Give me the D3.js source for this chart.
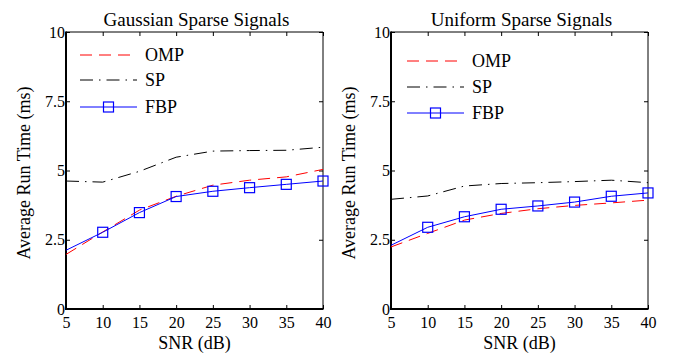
<!DOCTYPE html>
<html><head><meta charset="utf-8">
<script src="https://cdn.jsdelivr.net/npm/d3@7"></script>
<style>
html,body{margin:0;padding:0;background:#fff;}
svg{display:block;}
svg text{font-family:"Liberation Serif","Times New Roman",serif;}
</style></head>
<body>
<svg id="chart" width="686" height="353"></svg>
<script>
const snr = [5, 10, 15, 20, 25, 30, 35, 40];
const xTicks = [5, 10, 15, 20, 25, 30, 35, 40];
const yTicks = [0, 2.5, 5, 7.5, 10];
const yTickLabels = ["0", "2.5", "5", "7.5", "10"];
const seriesNames = ["OMP", "SP", "FBP"];
const titles = ["Gaussian Sparse Signals", "Uniform Sparse Signals"];

const gaussOMP = [1.97, 2.78, 3.57, 4.07, 4.47, 4.65, 4.77, 5.04];
const gaussSP  = [4.62, 4.58, 4.97, 5.48, 5.70, 5.72, 5.73, 5.84];
const gaussFBP = [2.12, 2.77, 3.48, 4.06, 4.25, 4.38, 4.50, 4.62];

const unifOMP = [2.24, 2.73, 3.21, 3.45, 3.62, 3.74, 3.83, 3.93];
const unifSP  = [3.96, 4.08, 4.44, 4.53, 4.56, 4.60, 4.65, 4.56];
const unifFBP = [2.30, 2.95, 3.33, 3.60, 3.72, 3.86, 4.07, 4.19];

const FONT = "Liberation Serif";
const svg = d3.select("#chart");
const styles = {
  OMP: {color: "#ff0000", dash: "12,7", marker: false},
  SP:  {color: "#000000", dash: "13,6,1.5,6", marker: false},
  FBP: {color: "#0000ff", dash: null, marker: true}
};

function panel(left, title, data, legendOff) {
  const top = 32, bottom = 309, right = left + 257;
  const x = d3.scaleLinear().domain([5, 40]).range([left, right]);
  const y = d3.scaleLinear().domain([0, 10]).range([bottom, top]);
  const g = svg.append("g");

  const ax = g.append("g").attr("transform", `translate(0,${bottom})`)
    .call(d3.axisBottom(x).tickValues(xTicks).tickSizeInner(-4).tickSizeOuter(0).tickPadding(8).tickFormat(d3.format("d")));
  const axT = g.append("g").attr("transform", `translate(0,${top})`)
    .call(d3.axisTop(x).tickValues(xTicks).tickSizeInner(-4).tickSizeOuter(0).tickFormat(""));
  const ay = g.append("g").attr("transform", `translate(${left},0)`)
    .call(d3.axisLeft(y).tickValues(yTicks).tickSizeInner(-4).tickSizeOuter(0).tickPadding(1)
      .tickFormat((d, i) => yTickLabels[i]));
  const ayR = g.append("g").attr("transform", `translate(${right},0)`)
    .call(d3.axisRight(y).tickValues(yTicks).tickSizeInner(-4).tickSizeOuter(0).tickFormat(""));
  [ax, axT, ay, ayR].forEach(a => {
    a.attr("font-family", FONT).attr("font-size", 16);
    a.select(".domain").remove();
    a.selectAll("text").attr("font-size", 16).attr("font-family", FONT).attr("fill", "#000");
    a.selectAll("line").attr("stroke", "#000");
  });

  g.append("line").attr("x1", left).attr("x2", right).attr("y1", top).attr("y2", top).attr("stroke", "#000").attr("stroke-width", 1);
  g.append("line").attr("x1", right).attr("x2", right).attr("y1", top).attr("y2", bottom).attr("stroke", "#000").attr("stroke-width", 1);
  g.append("line").attr("x1", left).attr("x2", left).attr("y1", top - 0.5).attr("y2", bottom + 1).attr("stroke", "#000").attr("stroke-width", 2);
  g.append("line").attr("x1", left - 1).attr("x2", right + 0.5).attr("y1", bottom).attr("y2", bottom).attr("stroke", "#000").attr("stroke-width", 2);

  const line = d3.line().x((d, i) => x(snr[i])).y(d => y(d));
  seriesNames.forEach((name, k) => {
    const st = styles[name];
    const vals = data[k];
    g.append("path").attr("d", line(vals)).attr("fill", "none").attr("stroke", st.color)
      .attr("stroke-width", 1).attr("stroke-dasharray", st.dash);
    if (st.marker) {
      g.selectAll(null).data(vals.slice(1)).enter().append("rect")
        .attr("x", (d, i) => x(snr[i + 1]) - 5).attr("y", d => y(d) - 5)
        .attr("width", 10).attr("height", 10)
        .attr("fill", "none").attr("stroke", st.color).attr("stroke-width", 1.2);
    }
  });

  seriesNames.forEach((name, k) => {
    const st = styles[name];
    const ly = top + legendOff.y[k];
    const lx0 = left + legendOff.x0, lx1 = left + legendOff.x0 + 57;
    g.append("line").attr("x1", lx0).attr("x2", lx1).attr("y1", ly).attr("y2", ly)
      .attr("stroke", st.color).attr("stroke-width", 1).attr("stroke-dasharray", st.dash);
    if (st.marker) {
      g.append("rect").attr("x", (lx0 + lx1) / 2 - 5).attr("y", ly - 5).attr("width", 10).attr("height", 10)
        .attr("fill", "none").attr("stroke", st.color).attr("stroke-width", 1.2);
    }
    g.append("text").attr("x", lx1 + 8).attr("y", ly + 6).attr("font-size", 18)
      .attr("font-family", FONT).text(name);
  });

  g.append("text").attr("x", (left + right) / 2 + 2).attr("y", 26).attr("text-anchor", "middle")
    .attr("font-size", 19).attr("font-family", FONT).text(title);
  g.append("text").attr("x", (left + right) / 2).attr("y", 349).attr("text-anchor", "middle")
    .attr("font-size", 18).attr("font-family", FONT).text("SNR (dB)");
  g.append("text").attr("transform", `translate(${left - 36},173) rotate(-90)`).attr("text-anchor", "middle")
    .attr("font-size", 18).attr("font-family", FONT).text("Average Run Time (ms)");
}

panel(66, titles[0], [gaussOMP, gaussSP, gaussFBP], {x0: 14, y: [23, 48, 75]});
panel(391, titles[1], [unifOMP, unifSP, unifFBP], {x0: 16, y: [29, 55, 81]});
</script>
</body></html>
